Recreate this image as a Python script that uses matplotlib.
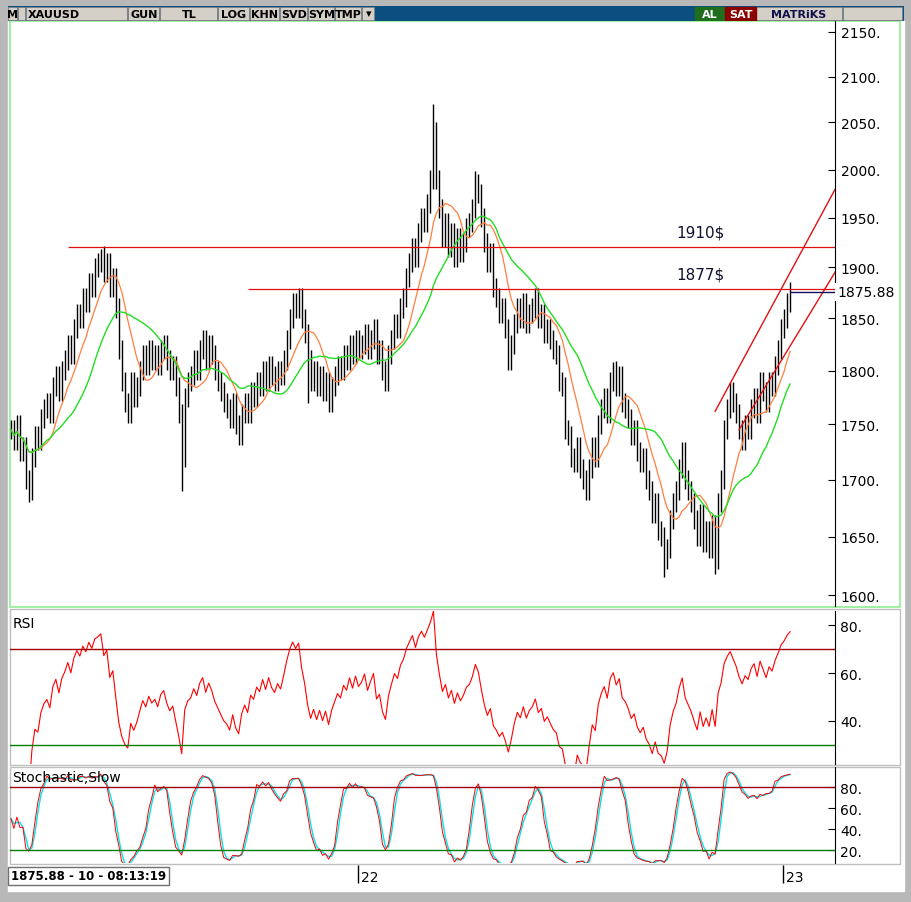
import numpy as np
import pandas as pd
import matplotlib
matplotlib.use('Agg')
import matplotlib.pyplot as plt
from matplotlib.patches import Rectangle

# closes, one bar every ~2.5 trading days
closes = [1745,1735,1750,1725,1730,1700, 1690,1720,1740,1735,1755,1765,
          1770,1760,1785,1795,1780,1800, 1810,1825,1815,1840,1855,1850,
          1870,1865,1885,1880,1900,1905, 1912,1895,1905,1880,1890,1860,
          1820,1790,1770,1760,1790,1775, 1785,1800,1815,1805,1820,1810,
          1815,1805,1820,1825,1810,1800, 1805,1785,1760,1720,1775,1790,
          1795,1810,1800,1820,1830,1810, 1825,1815,1800,1790,1780,1770,
          1765,1755,1770,1750,1740,1760, 1770,1760,1780,1775,1790,1785,
          1800,1790,1805,1795,1790,1800, 1795,1810,1830,1850,1865,1860,
          1870,1850,1835,1810,1790,1800, 1785,1795,1780,1790,1770,1785,
          1795,1805,1800,1815,1810,1825, 1815,1830,1820,1825,1835,1820,
          1830,1840,1815,1820,1800,1790, 1815,1830,1845,1840,1860,1870,
          1890,1905,1920,1910,1935,1950, 1945,1965,1990,2040,1990,1960,
          1930,1945,1920,1935,1910,1930, 1915,1925,1940,1945,1960,1985,
          1975,1950,1925,1905,1915,1880, 1870,1855,1860,1840,1810,1825,
          1845,1860,1850,1865,1845,1855, 1860,1870,1850,1855,1835,1840,
          1830,1820,1815,1790,1785,1745, 1740,1720,1715,1730,1710,1700,
          1690,1710,1730,1720,1750,1765, 1775,1760,1790,1800,1785,1795,
          1770,1765,1755,1740,1745,1725, 1715,1720,1700,1690,1670,1680,
          1655,1650,1630,1640,1665,1680, 1690,1710,1725,1700,1690,1680,
          1665,1650,1670,1645,1655,1640, 1660,1630,1680,1700,1745,1765,
          1780,1770,1760,1745,1735,1750, 1745,1765,1775,1760,1790,1780,
          1770,1790,1785,1805,1820,1840, 1850,1865,1876]
spike_highs = {141: 2070, 30: 1918, 155: 1998, 201: 1808}
spike_lows = {6: 1680, 57: 1690, 218: 1615, 235: 1618, 99: 1770}
last_price = 1875.88
levels = [1920, 1879]
level_start = [19, 79]
level_labels = ['1910$', '1877$']
channel_upper = [(235, 1762), (276, 1985)]
channel_lower = [(243, 1745), (276, 1900)]
year_ticks = [115.7, 257.7]
year_labels = ['22', '23']

c = pd.Series(closes, dtype=float)
n = len(c)
idx = np.arange(n)
op = c.shift(1).fillna(c.iloc[0])
hi = np.maximum(op, c) * 1.005
lo = np.minimum(op, c) * 0.995
for k, v in spike_highs.items():
    hi[k] = v
for k, v in spike_lows.items():
    lo[k] = v
ma_fast = c.rolling(10, min_periods=1).mean()
ma_slow = c.rolling(22, min_periods=1).mean()

d = c.diff()
up = d.clip(lower=0).ewm(alpha=1/11, adjust=False).mean()
dn = (-d.clip(upper=0)).ewm(alpha=1/11, adjust=False).mean()
rsi = 100 - 100 / (1 + up / dn.replace(0, np.nan))
hh = pd.Series(hi).rolling(10, min_periods=1).max()
ll = pd.Series(lo).rolling(10, min_periods=1).min()
fast_k = 100 * (c - ll) / (hh - ll)
slow_k = fast_k.rolling(3, min_periods=1).mean()
slow_d = slow_k.rolling(2, min_periods=1).mean()

W, H = 912, 903
fig = plt.figure(figsize=(W/100, H/100), dpi=100, facecolor='#b8b8b8')

def box(x0, y0, x1, y1):
    return [x0/W, 1-y1/H, (x1-x0)/W, (y1-y0)/H]

# full-figure overlay in pixel coords
bg = fig.add_axes([0, 0, 1, 1])
bg.set_xlim(0, W); bg.set_ylim(H, 0); bg.axis('off')
bg.add_patch(Rectangle((8, 22), 896, 870, color='white'))

# toolbar
tb = fig.add_axes(box(8, 7, 904, 22))
tb.set_xlim(8, 904); tb.set_ylim(22, 7); tb.axis('off')
tb.add_patch(Rectangle((8, 7), 896, 15, color='#0b4f80'))
buttons = [(8, 18, 'M'), (18, 26, ''), (26, 128, 'XAUUSD'), (128, 160, 'GUN'),
           (160, 218, 'TL'), (218, 250, 'LOG'), (250, 280, 'KHN'), (280, 308, 'SVD'),
           (308, 335, 'SYM'), (335, 362, 'TMP'), (362, 375, '▾'),
           (755, 843, 'MATRiKS'), (843, 903, '')]
for x0, x1, t in buttons:
    tb.add_patch(Rectangle((x0, 8), x1-x0-1, 13, facecolor='#d4d0c8', edgecolor='#808080', lw=0.5))
    tb.text((x0+x1)/2 if t != 'XAUUSD' else x0+2, 14.5, t, ha='center' if t != 'XAUUSD' else 'left',
            va='center', fontsize=8, fontweight='bold', color='#10104a' if t == 'MATRiKS' else 'black')
for x0, x1, t, col in [(695, 725, 'AL', '#1e6e1e'), (725, 757, 'SAT', '#8b0000')]:
    tb.add_patch(Rectangle((x0, 8), x1-x0-1, 13, color=col))
    tb.text((x0+x1)/2, 14.5, t, ha='center', va='center', fontsize=8, fontweight='bold', color='white')

# pane borders
bg.add_patch(Rectangle((10, 22), 890, 586, fill=False, edgecolor='#90ee90', lw=1.2))
bg.add_patch(Rectangle((10, 610), 890, 156, fill=False, edgecolor='#c0c0c0', lw=1))
bg.add_patch(Rectangle((10, 768), 890, 97, fill=False, edgecolor='#c0c0c0', lw=1))

xl = (-0.3, (835-10)/3)

# main price pane
ax = fig.add_axes(box(10, 22, 835, 607))
ax.patch.set_alpha(0)
ax.vlines(idx, lo, hi, color='black', lw=1.0)
ax.plot(idx, ma_fast, color='#ff7f3f', lw=0.9)
ax.plot(idx, ma_slow, color='#22dd22', lw=1.0)
for lv, s, lab in zip(levels, level_start, level_labels):
    ax.hlines(lv, s, xl[1], color='#e01010', lw=0.9)
    ax.text(230, lv*1.004, lab, fontsize=11, color='#101030', ha='center', va='bottom')
for ch in (channel_upper, channel_lower):
    ax.plot([ch[0][0], ch[1][0]], [ch[0][1], ch[1][1]], color='#e01010', lw=1.0)
ax.hlines(last_price, n-1, xl[1], color='#101060', lw=1.0)
ax.set_yscale('log')
ax.set_ylim(1591, 2162)
ax.set_xlim(*xl)
pticks = list(range(1600, 2151, 50))
ax.yaxis.tick_right()
ax.set_yticks(pticks)
ax.set_yticklabels([f'{p}.' for p in pticks])
ax.yaxis.set_minor_locator(matplotlib.ticker.NullLocator())
ax.set_xticks([])
ax.tick_params(axis='y', direction='in', length=5, labelsize=10, pad=4)
for s in ('top', 'left', 'bottom'):
    ax.spines[s].set_visible(False)
ax.text(1.003, (np.log(last_price)-np.log(1591))/(np.log(2162)-np.log(1591)), '1875.88',
        transform=ax.transAxes, fontsize=10, va='center', ha='left',
        bbox=dict(facecolor='white', edgecolor='none', pad=1.5))

# RSI
ar = fig.add_axes(box(10, 612, 835, 765))
ar.patch.set_alpha(0)
ar.plot(idx, rsi, color='#ff0000', lw=0.8)
ar.axhline(70, color='#a00000', lw=1.0)
ar.axhline(30, color='#008000', lw=1.0)
ar.set_ylim(22, 86)
ar.set_xlim(*xl)
ar.yaxis.tick_right()
ar.set_yticks([40, 60, 80]); ar.set_yticklabels(['40.', '60.', '80.'])
ar.set_xticks([])
ar.tick_params(axis='y', direction='in', length=5, labelsize=10)
for s in ('top', 'left', 'bottom'):
    ar.spines[s].set_visible(False)
ar.text(0.003, 0.97, 'RSI', transform=ar.transAxes, fontsize=10, va='top')

# stochastic
ast = fig.add_axes(box(10, 768, 835, 864))
ast.patch.set_alpha(0)
ast.plot(idx, slow_d, color='#00e5ee', lw=1.0)
ast.plot(idx, slow_k, color='#ff0000', lw=0.7)
ast.axhline(80, color='#a00000', lw=1.0)
ast.axhline(20, color='#008000', lw=1.0)
ast.set_ylim(8, 99)
ast.set_xlim(*xl)
ast.yaxis.tick_right()
ast.set_yticks([20, 40, 60, 80]); ast.set_yticklabels(['20.', '40.', '60.', '80.'])
ast.set_xticks([])
ast.tick_params(axis='y', direction='in', length=5, labelsize=10)
for s in ('top', 'left', 'bottom'):
    ast.spines[s].set_visible(False)
ast.text(0.003, 0.97, 'Stochastic,Slow', transform=ast.transAxes, fontsize=10, va='top')

# date axis
axd = fig.add_axes(box(10, 866, 835, 890))
axd.set_xlim(*xl); axd.set_ylim(0, 1); axd.axis('off')
for t, lab in zip(year_ticks, year_labels):
    axd.vlines(t, 0.25, 1, color='black', lw=1)
    axd.text(t + 1, 0.2, lab, fontsize=10, va='bottom')
fig.text(11/W, 1-877/H, '1875.88 - 10 - 08:13:19', fontsize=8.5, fontweight='bold', va='center',
         bbox=dict(facecolor='white', edgecolor='#707070', pad=2))

fig.savefig('out.png', dpi=100, facecolor=fig.get_facecolor())
